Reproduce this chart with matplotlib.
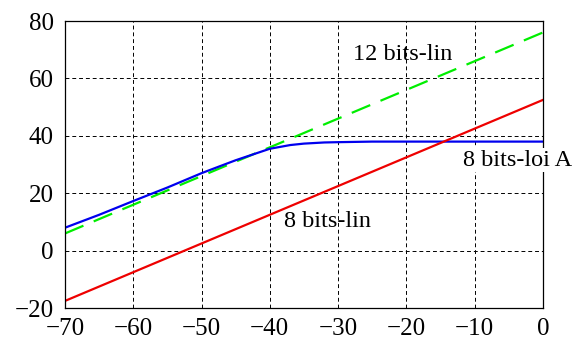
import matplotlib.pyplot as plt

plt.rcParams['font.family'] = ['Liberation Serif', 'DejaVu Serif']

x_lin = [-70, 0]
snr_12_lin = [6.0, 76.0]
snr_8_lin = [-17.5, 52.5]

x_loi_a = [-70, -65, -60, -55, -50, -45, -40, -37, -35, -32, -30, -25, -20, -10, 0]
snr_8_loi_a = [8.0, 12.5, 17.3, 22.0, 27.0, 31.5, 35.5, 36.8, 37.3, 37.7, 37.8, 38.0, 38.0, 38.0, 38.0]

xticks = list(range(-70, 1, 10))
yticks = list(range(-20, 81, 20))

def fmt(v):
    return '\u2212' + str(-v) if v < 0 else str(v)

fig = plt.figure(figsize=(5.83, 3.45), dpi=100)
ax = fig.add_axes([0.1115, 0.107, 0.8195, 0.832])

ax.plot(x_lin, snr_12_lin, color='#00ee00', lw=1.6, dashes=(9, 5))
ax.plot(x_loi_a, snr_8_loi_a, color='#0000ee', lw=1.6)
ax.plot(x_lin, snr_8_lin, color='#ee0000', lw=1.6)

ax.text(-20.5, 68.5, '12 bits-lin', ha='center', va='center', fontsize=17.5)
ax.text(-3.7, 31.5, '8 bits-loi A', ha='center', va='center', fontsize=17.5,
        bbox=dict(facecolor='white', edgecolor='none', pad=1), zorder=5)
ax.text(-31.5, 10, '8 bits-lin', ha='center', va='center', fontsize=17.5)

ax.set_xlim(-70, 0)
ax.set_ylim(-20, 80)
ax.set_xticks(xticks)
ax.set_yticks(yticks)
ax.set_xticklabels([fmt(v) for v in xticks])
ax.set_yticklabels([fmt(v) for v in yticks])
ax.tick_params(labelsize=18, direction='in', length=0)
ax.tick_params(axis='x', pad=7)
ax.tick_params(axis='y', pad=8)
ax.grid(True, color='black', lw=0.7, linestyle=(0, (4, 3)))
for s in ax.spines.values():
    s.set_linewidth(0.9)

fig.savefig('out.png', dpi=100)
